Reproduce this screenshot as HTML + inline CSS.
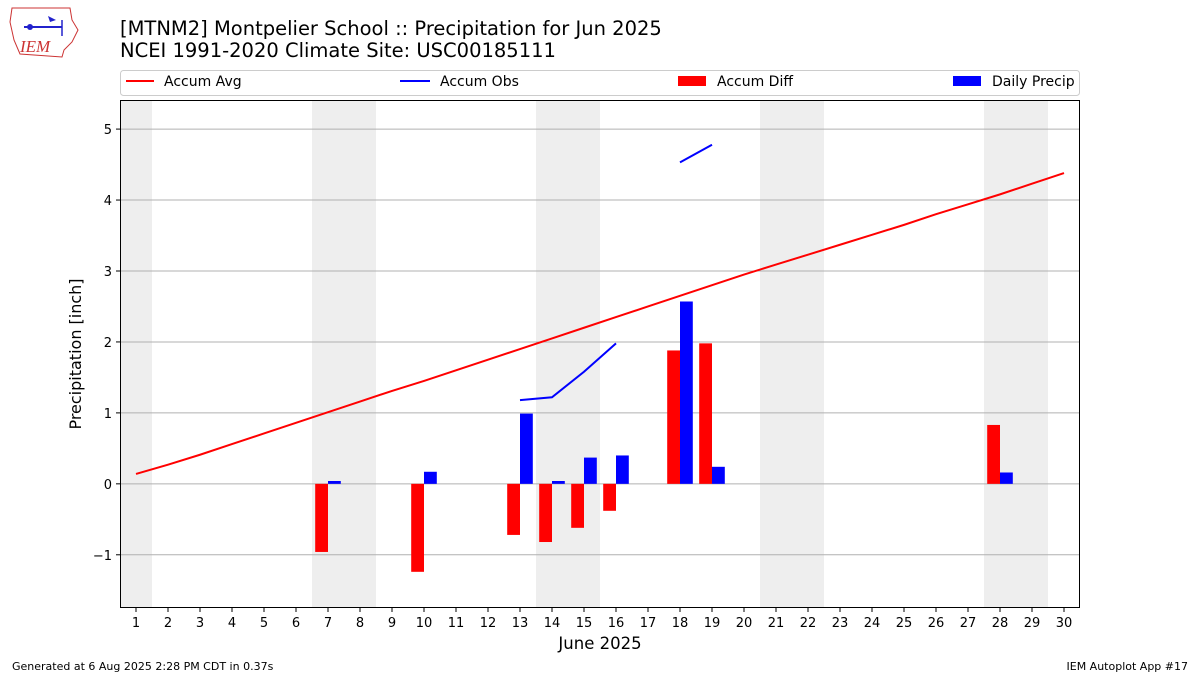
<!DOCTYPE html>
<html><head><meta charset="utf-8"><style>
body{margin:0;background:#fff;font-family:"Liberation Sans","DejaVu Sans",sans-serif}
svg text{font-family:"DejaVu Sans","Liberation Sans",sans-serif}
</style></head><body>
<svg id="c" width="1200" height="675" xmlns="http://www.w3.org/2000/svg">
<g>
<path d="M12 8 L70 8 L72 20 L78 30 L72 42 L64 50 L62 57 L20 54 L14 40 L10 22 Z" fill="#fff" stroke="#c33" stroke-width="1"/>
<line x1="24" y1="27" x2="62" y2="27" stroke="#22c" stroke-width="2"/>
<circle cx="30" cy="27" r="3" fill="#22c"/>
<path d="M48 16 L56 20 L50 22 Z" fill="#22c"/>
<line x1="62" y1="20" x2="62" y2="36" stroke="#22c" stroke-width="1.5"/>
<text x="20" y="52" font-size="17" fill="#c33" font-style="italic" style="font-family:'Liberation Serif',serif">IEM</text>
</g>
<text x="120" y="35" font-size="19.5">[MTNM2] Montpelier School :: Precipitation for Jun 2025</text>
<text x="120" y="57" font-size="19.5">NCEI 1991-2020 Climate Site: USC00185111</text>
<g>
<rect x="120.5" y="70.5" width="959" height="25" rx="3" fill="#fff" stroke="#ccc"/>
<g><line x1="126" y1="81" x2="154" y2="81" stroke="red" stroke-width="2"/><text x="164" y="86" font-size="14">Accum Avg</text></g>
<g><line x1="400" y1="81" x2="430" y2="81" stroke="blue" stroke-width="2"/><text x="440" y="86" font-size="14">Accum Obs</text></g>
<g><rect x="678" y="76" width="28" height="10" fill="red"/><text x="717" y="86" font-size="14">Accum Diff</text></g>
<g><rect x="953" y="76" width="28" height="10" fill="blue"/><text x="992" y="86" font-size="14">Daily Precip</text></g>
</g>
<g id="plot"></g>
<text x="12" y="670" font-size="11">Generated at 6 Aug 2025 2:28 PM CDT in 0.37s</text>
<text x="1188" y="670" font-size="11" text-anchor="end">IEM Autoplot App #17</text>
</svg>
<script>
const days=[];for(let d=1;d<=30;d++)days.push(d);
const weekendStarts=[1,7,14,21,28];
const accumAvg=[0.14,0.27,0.41,0.56,0.71,0.86,1.01,1.16,1.31,1.45,1.60,1.75,1.90,2.05,2.20,2.35,2.50,2.65,2.80,2.95,3.09,3.23,3.37,3.51,3.65,3.80,3.94,4.08,4.23,4.38];
const accumObs=[null,null,null,null,null,null,null,null,null,null,null,null,1.18,1.22,1.58,1.98,null,4.53,4.78,null,null,null,null,null,null,null,null,null,null,null];
const barDays=[7,10,13,14,15,16,18,19,28];
const accumDiff=[-0.96,-1.24,-0.72,-0.82,-0.62,-0.38,1.88,1.98,0.83];
const dailyPrecip=[0.04,0.17,0.99,0.04,0.37,0.40,2.57,0.24,0.16];
const yTicks=[-1,0,1,2,3,4,5];
const yTickLabels=["\u22121","0","1","2","3","4","5"];
const L=120,R=1080,T=100,B=608,ymin=-1.75,ymax=5.41;
const X=d=>L+(d-0.5)/30*(R-L);
const Y=v=>T+(ymax-v)/(ymax-ymin)*(B-T);
const NS="http://www.w3.org/2000/svg",g=document.getElementById('plot');
function mk(t,a,p){const e=document.createElementNS(NS,t);for(const k in a)e.setAttribute(k,a[k]);(p||g).appendChild(e);return e;}
weekendStarts.forEach(s=>{const e=mk('rect',{x:X(s-0.5),y:T,width:X(s+1.5)-X(s-0.5)-(s===1?(X(s+1.5)-X(s+0.5)):0),height:B-T,fill:'#eee'});

});
yTicks.forEach((v,i)=>{const l=mk('line',{x1:L,x2:R,y1:Y(v),y2:Y(v),stroke:'#b0b0b0','stroke-width':1});


mk('line',{x1:L-4,x2:L,y1:Y(v),y2:Y(v),stroke:'#000'});
const t=mk('text',{x:L-8,y:Y(v)+5,'text-anchor':'end','font-size':13});t.textContent=yTickLabels[i];

});
barDays.forEach((d,i)=>{const v=accumDiff[i];const r=mk('rect',{x:X(d-0.4),y:Math.min(Y(v),Y(0)),width:X(d)-X(d-0.4),height:Math.abs(Y(v)-Y(0)),fill:'red'});


const p=dailyPrecip[i];const b=mk('rect',{x:X(d),y:Math.min(Y(p),Y(0)),width:X(d+0.4)-X(d),height:Math.abs(Y(p)-Y(0)),fill:'blue'});

});
const avgPath=mk('polyline',{points:days.map((d,i)=>X(d)+','+Y(accumAvg[i])).join(' '),fill:'none',stroke:'red','stroke-width':2});


let seg=[];const segs=[];days.forEach((d,i)=>{if(accumObs[i]==null){if(seg.length)segs.push(seg);seg=[];}else seg.push(X(d)+','+Y(accumObs[i]));});if(seg.length)segs.push(seg);
segs.forEach(s=>{const o=mk('polyline',{points:s.join(' '),fill:'none',stroke:'blue','stroke-width':2});

});
const fr=mk('rect',{x:L+0.5,y:T+0.5,width:R-L-1,height:B-T-1,fill:'none',stroke:'#000'});


days.forEach(d=>{mk('line',{x1:X(d),x2:X(d),y1:B,y2:B+4,stroke:'#000'});
const t=mk('text',{x:X(d),y:B+19,'text-anchor':'middle','font-size':13});t.textContent=d;

});
const xt=mk('text',{x:600,y:649,'text-anchor':'middle','font-size':16.5});xt.textContent='June 2025';


const yt=mk('text',{x:0,y:0,'text-anchor':'middle','font-size':16,transform:'translate(81,354) rotate(-90)'});yt.textContent='Precipitation [inch]';


</script>
</body></html>
